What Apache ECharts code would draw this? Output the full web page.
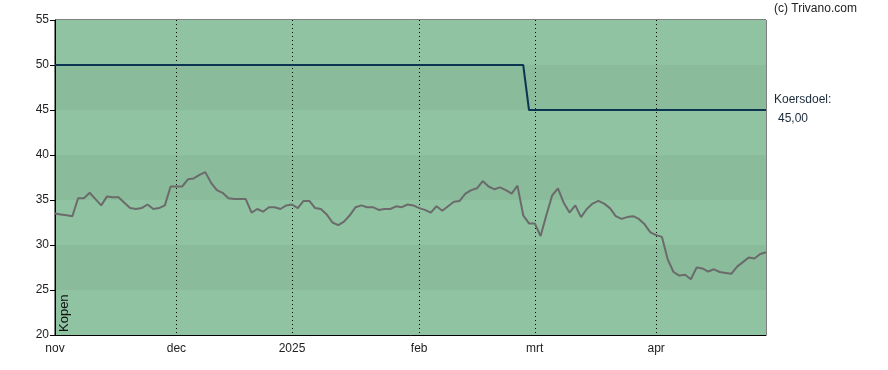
<!DOCTYPE html>
<html>
<head>
<meta charset="utf-8">
<script src="https://cdn.jsdelivr.net/npm/echarts@6/dist/echarts.min.js"></script>
<style>
html,body{margin:0;padding:0;background:#fff;}
#c{width:888px;height:370px;}
</style>
</head>
<body>
<div id="c"></div>
<script>
// Trading days per month (day numbers)
const tradingDays = {
  '2024-11': [1,4,5,6,7,8,11,12,13,14,15,18,19,20,21,22,25,26,27,28,29],
  '2024-12': [2,3,4,5,6,9,10,11,12,13,16,17,18,19,20,23,24,27,30,31],
  '2025-01': [2,3,6,7,8,9,10,13,14,15,16,17,20,21,22,23,24,27,28,29,30,31],
  '2025-02': [3,4,5,6,7,10,11,12,13,14,17,18,19,20,21,24,25,26,27,28],
  '2025-03': [3,4,5,6,7,10,11,12,13,14,17,18,19,20,21,24,25,26,27,28,31],
  '2025-04': [1,2,3,4,7,8,9,10,11,14,15,16,17,22,23,24,25,28,29,30]
};
const monthLabels = {'2024-11':'nov','2024-12':'dec','2025-01':'2025','2025-02':'feb','2025-03':'mrt','2025-04':'apr'};

const price = [
  33.5,33.4,33.3,33.2,35.2,35.2,35.8,35.1,34.4,35.4,
  35.3,35.3,34.7,34.1,34.0,34.1,34.5,34.0,34.1,34.4,
  36.5,36.5,36.5,37.3,37.4,37.8,38.1,36.9,36.1,35.8,
  35.2,35.1,35.1,35.1,33.6,34.0,33.7,34.2,34.2,34.0,
  34.4,34.5,34.1,34.9,34.9,34.1,34.0,33.4,32.5,32.2,
  32.6,33.3,34.2,34.4,34.2,34.2,33.9,34.0,34.0,34.3,
  34.2,34.5,34.4,34.1,33.9,33.6,34.3,33.8,34.3,34.8,
  34.9,35.7,36.1,36.3,37.1,36.5,36.2,36.4,36.1,35.7,
  36.6,33.3,32.4,32.4,31.0,33.3,35.5,36.3,34.7,33.6,
  34.4,33.1,34.0,34.6,34.9,34.6,34.1,33.2,32.9,33.1,
  33.2,32.9,32.3,31.4,31.1,30.9,28.4,27.0,26.6,26.7,
  26.2,27.5,27.4,27.05,27.3,27.0,26.9,26.8,27.6,28.1,
  28.6,28.5,29.0,29.2
];
const targetBefore = 50, targetAfter = 45, targetChangeIndex = 82;

const dates = [];
const monthStart = {};
Object.keys(tradingDays).forEach(m => {
  tradingDays[m].forEach((d, k) => {
    const s = m + '-' + String(d).padStart(2,'0');
    if (k === 0) monthStart[s] = monthLabels[m];
    dates.push(s);
  });
});
const target = dates.map((d,i) => i < targetChangeIndex ? targetBefore : targetAfter);

const chart = echarts.init(document.getElementById('c'), null, {renderer:'canvas'});
const FONT = 'Arial, "Liberation Sans", sans-serif';
chart.setOption({
  animation:false,
  grid:{left:55,right:122,top:20,bottom:35,show:true,borderColor:'#000',borderWidth:1,backgroundColor:'transparent'},
  xAxis:{
    type:'category', data:dates, boundaryGap:false,
    axisLine:{lineStyle:{color:'#000',width:1}},
    axisTick:{show:false},
    axisLabel:{
      interval:(i,v)=> monthStart[v] !== undefined,
      formatter:(v)=> monthStart[v] || '',
      color:'#222', fontSize:12, fontFamily:FONT, margin:8
    },
    splitLine:{show:true, interval:(i,v)=> monthStart[v] !== undefined && i>0,
      lineStyle:{color:'#000',type:[1,3],width:1}}
  },
  yAxis:{
    type:'value', min:20, max:55, interval:5,
    axisLine:{show:true,lineStyle:{color:'#000',width:1}},
    axisTick:{show:true,length:5,lineStyle:{color:'#000'}},
    axisLabel:{color:'#222',fontSize:12,fontFamily:FONT,margin:6},
    splitLine:{show:false},
    splitArea:{show:true,areaStyle:{color:['#90c3a2','#8abb9b']}}
  },
  series:[
    {type:'line',data:target,symbol:'none',lineStyle:{color:'#0b3553',width:2},z:3},
    {type:'line',data:price,symbol:'none',lineStyle:{color:'#6b6b6b',width:2},z:4}
  ],
  graphic:[
    {type:'text',left:774,top:3,z:100,style:{text:'(c) Trivano.com',fill:'#222',font:'12px '+FONT}},
    {type:'text',left:774,top:94,z:100,style:{text:'Koersdoel:',fill:'#1a2a3a',font:'12px '+FONT}},
    {type:'text',left:778,top:113,z:100,style:{text:'45,00',fill:'#1a2a3a',font:'12px '+FONT}},
    {type:'text',x:58,y:332,rotation:Math.PI/2,z:100,style:{text:'Kopen',fill:'#111',font:'13px '+FONT,textAlign:'left',textVerticalAlign:'top'}}
  ]
});
</script>
</body>
</html>
